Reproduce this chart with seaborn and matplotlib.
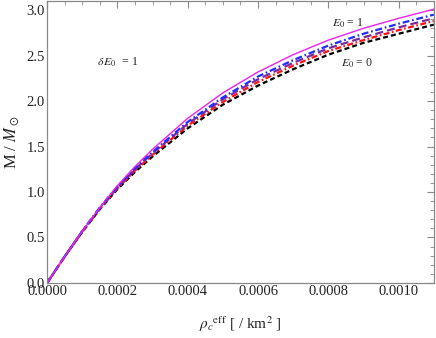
import numpy as np
import pandas as pd
import matplotlib
matplotlib.use("Agg")
import matplotlib.pyplot as plt
import seaborn as sns
from matplotlib.ticker import MultipleLocator, FormatStrFormatter

# data
rho = [0.0, 0.00005, 0.0001, 0.00015, 0.0002, 0.00025, 0.0003, 0.0004,
       0.0005, 0.0006, 0.0007, 0.0008, 0.0009, 0.0010, 0.0011]
m_e1 = [0, 0.29, 0.57, 0.83, 1.07, 1.28, 1.47, 1.81, 2.09, 2.32, 2.51,
        2.67, 2.80, 2.91, 3.01]
m_blue = [0, 0.29, 0.57, 0.83, 1.06, 1.26, 1.44, 1.77, 2.04, 2.27, 2.45,
          2.61, 2.74, 2.85, 2.95]
m_purple = [0, 0.29, 0.57, 0.82, 1.05, 1.25, 1.425, 1.75, 2.02, 2.24, 2.42,
            2.58, 2.70, 2.81, 2.91]
m_red = [0, 0.29, 0.56, 0.815, 1.04, 1.235, 1.41, 1.73, 1.99, 2.21, 2.39,
         2.55, 2.67, 2.78, 2.88]
m_e0 = [0, 0.29, 0.56, 0.81, 1.03, 1.22, 1.39, 1.70, 1.96, 2.17, 2.35,
        2.51, 2.64, 2.74, 2.84]

x_ticks = [0.0, 0.0002, 0.0004, 0.0006, 0.0008, 0.0010]
y_ticks = [0.0, 0.5, 1.0, 1.5, 2.0, 2.5, 3.0]

sns.set_theme(style="white")
plt.rcParams["font.family"] = ["Liberation Serif", "DejaVu Serif"]
plt.rcParams["mathtext.fontset"] = "stix"
plt.rcParams["lines.scale_dashes"] = False

fig = plt.figure(figsize=(4.36, 3.38), dpi=100)
ax = fig.add_axes([0.108, 0.163, 0.887, 0.834])

series = [
    (m_e0, "black", (0, (3.6, 2.2)), 1.6),
    (m_red, "#ff1010", (0, (4.3, 1.8, 1.2, 1.8)), 1.6),
    (m_purple, "#7b2a9c", (0, (5.8, 2.9)), 1.6),
    (m_blue, "#1f2dff", (0, (5.0, 2.0, 1.2, 2.0)), 1.6),
    (m_e1, "#ee22ee", "-", 1.0),
]
for vals, col, ls, lw in series:
    df = pd.DataFrame({"rho": rho, "M": vals})
    sns.lineplot(data=df, x="rho", y="M", color=col, linestyle=ls,
                 linewidth=lw, ax=ax, sort=False)

ax.set_xlim(0, 0.0011)
ax.set_ylim(0, 3.1)
ax.set_xticks(x_ticks)
ax.set_yticks(y_ticks)
ax.xaxis.set_major_formatter(FormatStrFormatter("%.4f"))
ax.yaxis.set_major_formatter(FormatStrFormatter("%.1f"))
ax.xaxis.set_minor_locator(MultipleLocator(0.00005))
ax.yaxis.set_minor_locator(MultipleLocator(0.1))
ax.tick_params(which="both", direction="in", top=True, right=True,
               color="#888888", labelsize=10.5, labelcolor="#222222", pad=1.5)
ax.tick_params(which="major", length=5, width=0.8)
ax.tick_params(which="minor", length=2.8, width=0.6)
for s in ax.spines.values():
    s.set_color("#888888")
    s.set_linewidth(0.9)

ax.set_xlabel(r"$\rho_c$$^{\rm eff}$ [ / km$^2$ ]", fontsize=11, labelpad=12,
              color="#222222")
ax.set_ylabel(r"M / $M_\odot$", fontsize=12, labelpad=4, color="#222222")

ax.text(0.0002, 2.43, r"$\delta\,E_0$  = 1", fontsize=8.5, ha="center",
        va="center", color="#222222")
ax.text(0.000856, 2.85, r"$E_0$ = 1", fontsize=8.5, ha="center", va="center",
        color="#222222")
ax.text(0.000882, 2.42, r"$E_0$ = 0", fontsize=8.5, ha="center", va="center",
        color="#222222")

fig.savefig("out.png", dpi=100)
